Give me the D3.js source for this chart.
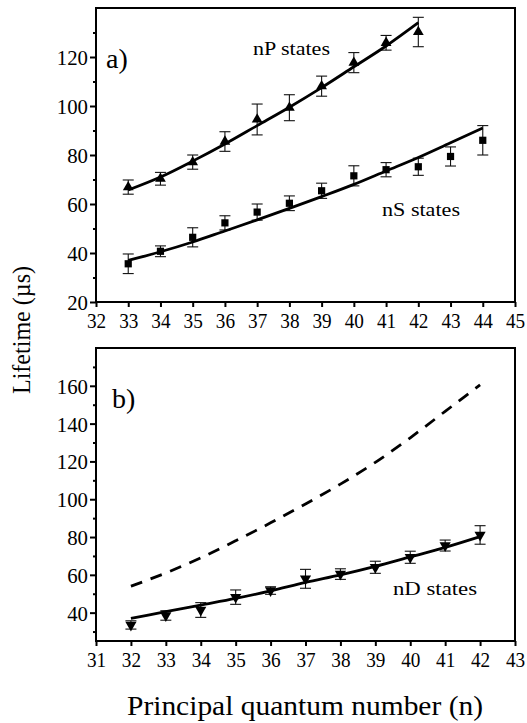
<!DOCTYPE html>
<html>
<head>
<meta charset="utf-8">
<script src="https://cdn.jsdelivr.net/npm/d3@7"></script>
<style>
  html, body { margin: 0; padding: 0; background: #fff; }
  svg { display: block; }
</style>
</head>
<body>
<svg id="chart" width="527" height="723"></svg>
<script>
// ---------- Data ----------
// Panel a) nP states
const nP_n    = [33, 34, 35, 36, 37, 38, 39, 40, 41, 42];
const nP_tau  = [66.9, 70.3, 77.1, 85.5, 94.5, 99.3, 108.1, 117.7, 125.8, 130.2];
const nP_err  = [2.9, 2.6, 2.9, 4.0, 6.3, 5.3, 4.1, 4.1, 3.0, 6.0];
const nP_fit  = [65.7, 71.0, 77.5, 84.5, 92.0, 99.5, 107.5, 116.0, 124.5, 134.0];

// Panel a) nS states
const nS_n    = [33, 34, 35, 36, 37, 38, 39, 40, 41, 42, 43, 44];
const nS_tau  = [35.6, 40.7, 46.4, 52.3, 56.7, 60.3, 65.4, 71.5, 74.0, 75.2, 79.4, 86.0];
const nS_err  = [4.0, 2.2, 3.9, 2.9, 3.3, 3.0, 3.1, 4.1, 2.9, 3.5, 3.9, 6.0];
const nS_fit  = [37.0, 40.5, 44.5, 49.0, 53.5, 58.2, 63.0, 68.0, 73.5, 79.0, 85.0, 91.0];

// Panel b) nD states
const nD_n    = [32, 33, 34, 35, 36, 37, 38, 39, 40, 41, 42];
const nD_tau  = [33.5, 38.5, 41.4, 48.2, 51.7, 57.9, 60.4, 64.0, 69.3, 75.5, 81.1];
const nD_err  = [2.2, 2.5, 3.9, 3.8, 2.0, 5.0, 2.8, 3.2, 3.2, 2.9, 4.9];
const nD_fit  = [37.0, 40.5, 44.0, 47.5, 51.5, 56.0, 60.0, 64.5, 69.5, 74.5, 80.2];
const nD_dash = [54.0, 61.0, 69.0, 78.0, 87.5, 97.5, 108.0, 119.5, 132.5, 146.5, 160.5];

// Axis ticks
const a_xTicks = [32, 33, 34, 35, 36, 37, 38, 39, 40, 41, 42, 43, 44, 45];
const a_yTicks = [20, 40, 60, 80, 100, 120];
const a_yMinor = [30, 50, 70, 90, 110, 130];
const b_xTicks = [31, 32, 33, 34, 35, 36, 37, 38, 39, 40, 41, 42, 43];
const b_yTicks = [40, 60, 80, 100, 120, 140, 160];
const b_yMinor = [30, 50, 70, 90, 110, 130, 150, 170];

// ---------- Layout ----------
const FONT = '"Liberation Serif", "Times New Roman", Times, serif';
const svg = d3.select("#chart");
const L = 96, R = 515;
const A = { top: 8, bottom: 302, xDom: [32, 45], yDom: [20, 140] };
const B = { top: 348, bottom: 641, xDom: [31, 43], yDom: [25, 180] };

function panel(P, xTicks, yTicks, yMinor) {
  const x = d3.scaleLinear().domain(P.xDom).range([L, R]);
  const y = d3.scaleLinear().domain(P.yDom).range([P.bottom, P.top]);
  const g = svg.append("g");

  // x axis
  const xa = g.append("g").attr("transform", `translate(0,${P.bottom})`)
    .call(d3.axisBottom(x).tickValues(xTicks).tickFormat(d3.format("d")).tickSize(5).tickPadding(6));
  xa.attr("font-family", null).attr("font-size", null);
  xa.select(".domain").remove();
  xa.selectAll(".tick line").attr("stroke", "#000").attr("stroke-width", 2);
  xa.selectAll(".tick text")
    .style("font-family", FONT).style("font-size", "22px")
    .attr("dy", "0.7em")
    .attr("textLength", d => String(d).length * 9.6).attr("lengthAdjust", "spacingAndGlyphs");

  // y axis major
  const ya = g.append("g").attr("transform", `translate(${L},0)`)
    .call(d3.axisLeft(y).tickValues(yTicks).tickFormat(d3.format("d")).tickSize(6).tickPadding(2));
  ya.attr("font-family", null).attr("font-size", null);
  ya.select(".domain").remove();
  ya.selectAll(".tick line").attr("stroke", "#000").attr("stroke-width", 2);
  ya.selectAll(".tick text")
    .style("font-family", FONT).style("font-size", "22px")
    .attr("dy", "0.34em")
    .attr("textLength", d => String(d).length * 10.4).attr("lengthAdjust", "spacingAndGlyphs");

  // y axis minor
  const ym = g.append("g").attr("transform", `translate(${L},0)`)
    .call(d3.axisLeft(y).tickValues(yMinor).tickFormat("").tickSize(3));
  ym.select(".domain").remove();
  ym.selectAll(".tick line").attr("stroke", "#000").attr("stroke-width", 2);

  // frame
  g.append("rect").attr("x", L).attr("y", P.top)
    .attr("width", R - L).attr("height", P.bottom - P.top)
    .attr("fill", "none").attr("stroke", "#000").attr("stroke-width", 2);

  return { x, y, g };
}

function errorBars(pn, ns, vals, errs) {
  const { x, y, g } = pn;
  const eg = g.append("g").attr("stroke", "#111").attr("stroke-width", 1.1);
  ns.forEach((n, i) => {
    const cx = x(n), y1 = y(vals[i] + errs[i]), y2 = y(vals[i] - errs[i]);
    eg.append("line").attr("x1", cx).attr("x2", cx).attr("y1", y1).attr("y2", y2);
    eg.append("line").attr("x1", cx - 5.5).attr("x2", cx + 5.5).attr("y1", y1).attr("y2", y1);
    eg.append("line").attr("x1", cx - 5.5).attr("x2", cx + 5.5).attr("y1", y2).attr("y2", y2);
  });
}

function fitLine(pn, ns, vals, dashed) {
  const { x, y, g } = pn;
  const line = d3.line().x((d, i) => x(ns[i])).y(d => y(d)).curve(d3.curveMonotoneX);
  const p = g.append("path").datum(vals).attr("d", line)
    .attr("fill", "none").attr("stroke", "#000").attr("stroke-width", 2.8);
  if (dashed) p.attr("stroke-dasharray", "12,9");
}

function markers(pn, ns, vals, type, size, rot) {
  const { x, y, g } = pn;
  const sym = d3.symbol().type(type).size(size);
  g.append("g").selectAll("path").data(vals).join("path")
    .attr("d", sym)
    .attr("transform", (d, i) => `translate(${x(ns[i])},${y(d)}) rotate(${rot})`)
    .attr("fill", "#000");
}

function label(x, y, size, txt, len) {
  const t = svg.append("text").attr("x", x).attr("y", y)
    .style("font-family", FONT).style("font-size", size + "px").attr("fill", "#000").text(txt);
  if (len) t.attr("textLength", len).attr("lengthAdjust", "spacingAndGlyphs");
  return t;
}

// ---------- Panel a ----------
const pa = panel(A, a_xTicks, a_yTicks, a_yMinor);
errorBars(pa, nP_n, nP_tau, nP_err);
errorBars(pa, nS_n, nS_tau, nS_err);
fitLine(pa, nP_n, nP_fit, false);
fitLine(pa, nS_n, nS_fit, false);
markers(pa, nP_n, nP_tau, d3.symbolTriangle, 50, 0);
markers(pa, nS_n, nS_tau, d3.symbolSquare, 52, 0);

label(106, 68, 28, "a)");
label(253, 55, 19, "nP states", 77);
label(382, 216, 19, "nS states", 78);

// ---------- Panel b ----------
const pb = panel(B, b_xTicks, b_yTicks, b_yMinor);
fitLine(pb, nD_n, nD_dash, true);
errorBars(pb, nD_n, nD_tau, nD_err);
fitLine(pb, nD_n, nD_fit, false);
markers(pb, nD_n, nD_tau, d3.symbolTriangle, 54, 180);

label(112, 408, 28, "b)");
label(393, 595, 19, "nD states", 84);

// ---------- Axis titles ----------
svg.append("text")
  .attr("transform", "translate(30,330) rotate(-90)")
  .attr("text-anchor", "middle")
  .style("font-family", FONT).style("font-size", "25px")
  .attr("textLength", 128).attr("lengthAdjust", "spacingAndGlyphs")
  .text("Lifetime (µs)");
svg.append("text")
  .attr("x", 305).attr("y", 715)
  .attr("text-anchor", "middle")
  .style("font-family", FONT).style("font-size", "27px")
  .attr("textLength", 356).attr("lengthAdjust", "spacingAndGlyphs")
  .text("Principal quantum number (n)");
</script>
</body>
</html>
